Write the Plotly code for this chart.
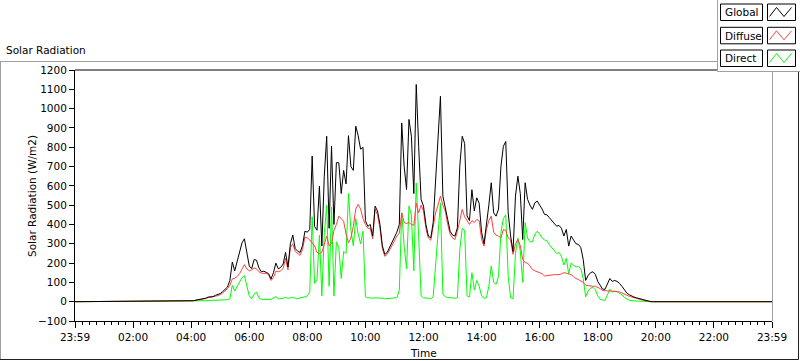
import plotly.graph_objects as go

# ---------------- data (5-minute samples from 04:00 to 20:00) ----------------
start_hour = 4.0
step_minutes = 5

global_vals = [
    2, 5, 8, 10, 12, 15, 18, 24, 26, 26, 33, 37,                 # 04
    42, 52, 62, 76, 110, 205, 160, 205, 255, 305, 326, 250,      # 05
    185, 171, 218, 215, 175, 155, 158, 152, 145, 118, 150, 200,  # 06
    170, 178, 195, 255, 180, 300, 345, 275, 262, 255, 290, 365,  # 07
    360, 375, 754, 390, 370, 598, 288, 650, 857, 380, 805, 400,  # 08
    720, 720, 560, 680, 610, 860, 700, 680, 909, 860, 790, 800,  # 09
    420, 390, 400, 340, 495, 470, 400, 290, 245, 255, 280, 305,  # 10
    330, 360, 400, 926, 702, 581, 944, 857, 560, 1125, 805, 530, # 11
    495, 400, 340, 330, 409, 650, 875, 1064, 547, 494, 426, 365, # 12
    345, 340, 383, 702, 857, 820, 445, 420, 580, 470, 538, 510,  # 13
    360, 300, 391, 500, 616, 460, 443, 480, 702, 805, 830, 460,  # 14
    340, 260, 547, 650, 560, 322, 616, 530, 500, 478, 512, 521,  # 15
    500, 480, 452, 450, 435, 420, 400, 391, 395, 380, 340, 374,  # 16
    288, 340, 320, 300, 297, 280, 219, 110, 135, 150, 155, 142,  # 17
    105, 81, 65, 64, 90, 120, 105, 110, 105, 95, 80, 60,         # 18
    45, 36, 29, 24, 20, 16, 12, 8, 5, 2, 0, 0,                   # 19
    0,                                                           # 20
]

diffuse_vals = [
    2, 5, 8, 9, 11, 13, 16, 21, 23, 23, 28, 32,
    36, 45, 55, 68, 85, 118, 122, 130, 145, 170, 192, 170,
    160, 165, 175, 170, 155, 148, 146, 148, 140, 110, 125, 158,
    155, 160, 172, 225, 165, 280, 300, 260, 250, 240, 270, 335,
    330, 320, 305, 290, 255, 250, 255, 300, 340, 290, 300, 370,
    400, 443, 430, 417, 350, 305, 330, 390, 480, 504, 480, 430,
    400, 380, 380, 325, 480, 450, 380, 275, 235, 245, 268, 288,
    315, 340, 355, 460, 410, 405, 410, 400, 395, 510, 460, 500,
    470, 380, 330, 318, 380, 460, 500, 547, 500, 470, 400, 350,
    330, 322, 365, 430, 478, 440, 420, 400, 420, 410, 426, 420,
    322, 288, 374, 420, 443, 360, 345, 340, 330, 374, 370, 330,
    320, 245, 300, 322, 290, 219, 202, 200, 185, 167, 160, 155,
    150, 145, 133, 135, 138, 140, 140, 140, 140, 145, 150, 148,
    145, 140, 130, 120, 115, 108, 100, 85, 82, 80, 80, 80,
    75, 68, 58, 56, 55, 55, 55, 54, 52, 50, 45, 38,
    32, 28, 24, 20, 17, 14, 10, 7, 4, 2, 0, 0,
    0,
]

direct_vals = [
    1, 2, 2, 3, 3, 4, 5, 6, 7, 7, 8, 8,
    8, 9, 10, 10, 15, 85, 55, 80, 105, 125, 135, 85,
    30, 15, 40, 50, 20, 12, 12, 12, 12, 12, 20, 26,
    15, 15, 18, 22, 18, 20, 22, 18, 15, 20, 22, 25,
    30, 50, 440, 95, 115, 345, 30, 350, 500, 80, 490, 30,
    310, 280, 120, 260, 250, 560, 370, 290, 430, 350, 300, 365,
    25, 20, 20, 18, 20, 20, 20, 18, 15, 15, 15, 18,
    20, 20, 60, 460, 290, 170, 495, 450, 160, 615, 340, 30,
    20, 20, 18, 15, 25, 190, 380, 512, 40, 25, 22, 20,
    18, 18, 20, 270, 380, 370, 30, 25, 150, 60, 110, 80,
    30, 18, 20, 80, 184, 100, 90, 130, 360, 430, 450, 130,
    20, 15, 250, 330, 260, 100, 410, 330, 310, 310, 350, 365,
    350, 330, 320, 315, 295, 280, 260, 250, 255, 235, 190, 225,
    145, 200, 190, 180, 182, 172, 120, 25, 55, 70, 75, 62,
    30, 12, 8, 8, 35, 65, 50, 55, 52, 45, 35, 22,
    13, 8, 5, 4, 3, 2, 2, 1, 1, 0, 0, 0,
    0,
]

tick_hours = [0, 2, 4, 6, 8, 10, 12, 14, 16, 18, 20, 22, 24]
tick_labels = ["23:59", "02:00", "04:00", "06:00", "08:00", "10:00", "12:00",
               "14:00", "16:00", "18:00", "20:00", "22:00", "23:59"]

series_names = ["Global", "Diffuse", "Direct"]
series_colors = ["#000000", "#ff4040", "#00ff00"]

# ---------------- build ----------------
n = len(global_vals)
times = [0.0] + [start_hour + i * step_minutes / 60 for i in range(n)] + [24.0]


def pad(v):
    return [0] + list(v) + [0]


FONT = "DejaVu Sans"
FS = 10.5
W, H = 800, 361
L, R, T, B = 75, 772, 70, 321  # plot area in pixels


def px(x):
    return (x - L) / (R - L)


def py(y):
    return (B - y) / (B - T)


fig = go.Figure()
for name, vals, col in [("Direct", direct_vals, series_colors[2]),
                        ("Diffuse", diffuse_vals, series_colors[1]),
                        ("Global", global_vals, series_colors[0])]:
    fig.add_trace(go.Scatter(x=times, y=pad(vals), mode="lines", name=name,
                             line=dict(color=col, width=1), showlegend=False,
                             hoverinfo="skip"))

shapes = []


def line(x0, y0, x1, y1, color, width=1):
    shapes.append(dict(type="line", xref="paper", yref="paper",
                       x0=px(x0), y0=py(y0), x1=px(x1), y1=py(y1),
                       line=dict(color=color, width=width), layer="above"))


def rect(x0, y0, x1, y1, fill, color=None, width=1):
    shapes.append(dict(type="rect", xref="paper", yref="paper",
                       x0=px(x0), y0=py(y0), x1=px(x1), y1=py(y1),
                       fillcolor=fill,
                       line=dict(color=color if color else fill, width=width if color else 0),
                       layer="above"))


# outer graph frame
line(0, 61.5, 800, 61.5, "#a0a0a0")
line(0.5, 61.5, 0.5, 359.5, "#a0a0a0")
line(0, 359.5, 798.5, 359.5, "#202020")
line(798.5, 61.5, 798.5, 359.5, "#202020")
# plot area frame (top black, right grey)
line(L, T, R, T, "#000000")
line(R + 0.5, T, R + 0.5, B, "#a0a0a0")

# legend block (top-right)
rect(717, -2, 802, 71.5, "#ffffff")
line(717.5, 0, 717.5, 71.5, "#a0a0a0")
line(717.5, 71.5, 800, 71.5, "#a0a0a0")

annotations = []
row_tops = [4, 27.3, 50]
for name, col, y0 in zip(series_names, series_colors, row_tops):
    y1 = y0 + 16.5
    rect(720.5, y0, 762.5, y1, "#ffffff", "#000000", 1)
    rect(767.5, y0, 795.5, y1, "#ffffff", "#000000", 1)
    zig = [(769.5, y0 + 12.5), (776.5, y0 + 3.5), (784, y0 + 12.5), (791.5, y0 + 3.5)]
    path = "M " + " L ".join(f"{px(a):.5f},{py(b):.5f}" for a, b in zig)
    shapes.append(dict(type="path", xref="paper", yref="paper", path=path,
                       line=dict(color=col, width=1), layer="above"))
    annotations.append(dict(text=name, x=px(722.5), y=py((y0 + y1) / 2), xref="paper",
                            yref="paper", xanchor="left", yanchor="middle",
                            showarrow=False, font=dict(family=FONT, size=FS, color="#000")))

annotations.append(dict(text="Solar Radiation", x=px(4), y=py(50), xref="paper", yref="paper",
                        xanchor="left", yanchor="middle", showarrow=False,
                        font=dict(family=FONT, size=FS, color="#000")))
annotations.append(dict(text="Solar Radiation (W/m2)", x=px(32), y=py(196), xref="paper",
                        yref="paper", xanchor="center", yanchor="middle", textangle=-90,
                        showarrow=False, font=dict(family=FONT, size=FS, color="#000")))
annotations.append(dict(text="Time", x=px(423.5), y=py(353), xref="paper", yref="paper",
                        xanchor="center", yanchor="middle", showarrow=False,
                        font=dict(family=FONT, size=FS, color="#000")))

fig.update_layout(
    width=W, height=H,
    margin=dict(l=L, r=W - R, t=T, b=H - B, pad=0),
    paper_bgcolor="#ffffff", plot_bgcolor="#ffffff",
    showlegend=False,
    shapes=shapes, annotations=annotations,
    font=dict(family=FONT, size=FS, color="#000"),
    xaxis=dict(range=[0, 24], tickmode="array", tickvals=tick_hours, ticktext=tick_labels,
               ticks="outside", ticklen=6, tickcolor="#000", tickwidth=1,
               showline=True, linecolor="#000", linewidth=1, showgrid=False, zeroline=False,
               tickfont=dict(family=FONT, size=FS, color="#000"),
               minor=dict(tickmode="linear", tick0=0, dtick=0.25, ticks="outside",
                          ticklen=3, tickcolor="#000", tickwidth=1, showgrid=False)),
    yaxis=dict(range=[-100, 1200], tickmode="linear", tick0=0, dtick=100,
               ticks="outside", ticklen=5, tickcolor="#000", tickwidth=1,
               showline=True, linecolor="#000", linewidth=1, showgrid=False, zeroline=False,
               tickfont=dict(family=FONT, size=FS, color="#000")),
)

fig.write_html(
    "out.html",
    config={"displayModeBar": False},
    post_script="document.body.style.margin='0';document.body.style.padding='0';"
                "document.body.style.overflow='hidden';",
)
